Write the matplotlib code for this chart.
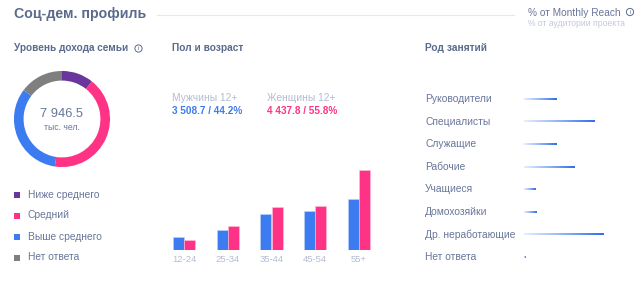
import numpy as np
import matplotlib
matplotlib.use("Agg")
import matplotlib.pyplot as plt
from matplotlib.colors import LinearSegmentedColormap
from matplotlib.patches import Circle

income_labels = ["Ниже среднего", "Средний", "Выше среднего", "Нет ответа"]
income_shares = [10.7, 41.7, 32.9, 14.7]
income_colors = ["#6a359c", "#ff3385", "#3d7bf0", "#7f7f7f"]

age_groups = ["12-24", "25-34", "35-44", "45-54", "55+"]
men = [293, 440, 792, 858, 1122]
women = [220, 528, 946, 968, 1760]

occupations = ["Руководители", "Специалисты", "Служащие", "Рабочие", "Учащиеся",
               "Домохозяйки", "Др. неработающие", "Нет ответа"]
occupation_values = [32.7, 71, 33, 51, 12, 13, 80, 2]

TITLE = "#5a6b8c"
TEXT = "#68769a"
LIGHT = "#b4bcd2"
BLUE = "#3d7bf0"
PINK = "#ff3385"

plt.rcParams["font.family"] = ["Liberation Sans", "DejaVu Sans"]
W, H = 643, 283
fig = plt.figure(figsize=(W / 100, H / 100), dpi=100, facecolor="white")

def box(x0, y0, x1, y1):
    return [x0 / W, 1 - y1 / H, (x1 - x0) / W, (y1 - y0) / H]

bg = fig.add_axes([0, 0, 1, 1])
bg.set_xlim(0, W)
bg.set_ylim(H, 0)
bg.axis("off")

def T(x, y, s, size, color, weight="normal", ha="left"):
    bg.text(x, y, s, fontsize=size, color=color, fontweight=weight, ha=ha, va="center")

def info(x, y):
    bg.add_patch(Circle((x, y), 3.6, fill=False, ec=TITLE, lw=0.7))
    T(x, y, "i", 4.5, TITLE, ha="center")

T(14, 14, "Соц-дем. профиль", 10.2, TITLE, "bold")
bg.plot([157, 514], [14.5, 14.5], color="#e3e8f5", lw=0.8)
T(528, 13, "% от Monthly Reach", 7.3, TEXT)
info(630, 12)
T(528, 24, "% от аудитории проекта", 6.2, "#c3c9dc")

T(14, 48, "Уровень дохода семьи", 7.2, TITLE, "bold")
info(138.5, 48.5)
T(172, 48, "Пол и возраст", 7.3, TITLE, "bold")
T(425, 48, "Род занятий", 7.3, TITLE, "bold")

T(172, 98, "Мужчины 12+", 7.4, LIGHT)
T(172, 111, "3 508.7 / 44.2%", 7.2, BLUE, "bold")
T(267, 98, "Женщины 12+", 7.4, LIGHT)
T(267, 111, "4 437.8 / 55.8%", 7.2, PINK, "bold")

# Donut
ax_d = fig.add_axes(box(13, 70, 111, 168))
ax_d.pie(income_shares, colors=income_colors, startangle=90, counterclock=False,
         radius=1, wedgeprops={"width": 0.2})
ax_d.set_xlim(-1.02, 1.02)
ax_d.set_ylim(-1.02, 1.02)
T(62, 114, "7 946.5", 9.3, TEXT, ha="center")
T(62, 127, "тыс. чел.", 6.2, TEXT, ha="center")

# Legend
for y, lab, c in zip([194.5, 215.5, 236.5, 257.5], income_labels, income_colors):
    bg.add_patch(plt.Rectangle((14, y - 3), 6, 6, color=c, lw=0))
    T(28, y, lab, 7.4, TEXT)

# Bars
ax_b = fig.add_axes(box(166, 160, 372, 250))
x = np.arange(len(age_groups))
ax_b.bar(x - 0.13, men, 0.25, color=BLUE, edgecolor="#bcd2fa", linewidth=0.4)
ax_b.bar(x + 0.13, women, 0.25, color=PINK, edgecolor="#ffc0da", linewidth=0.4)
ax_b.set_xlim(-0.411, 4.297)
ax_b.set_ylim(0, 1980)
ax_b.axis("off")
for gx, lab in zip([184, 228, 272, 315, 359], age_groups):
    T(gx, 259, lab, 6.8, LIGHT, ha="center")

# Occupations
ax_o = fig.add_axes(box(524, 87.7, 624, 268.3))
cmap = LinearSegmentedColormap.from_list("g", ["#e6eefd", "#8fb2f5", "#2f6fe8"])
grad = np.linspace(0, 1, 128).reshape(1, -1)
for i, (lab, v) in enumerate(zip(occupations, occupation_values)):
    ax_o.imshow(grad, extent=[0, v, i + 0.035, i - 0.035], aspect="auto", cmap=cmap,
                interpolation="bilinear")
    T(425, 99 + i * 22.57, lab, 7.4, TEXT)
ax_o.set_xlim(0, 100)
ax_o.set_ylim(len(occupations) - 0.5, -0.5)
ax_o.axis("off")

fig.savefig("out.png", dpi=100)
